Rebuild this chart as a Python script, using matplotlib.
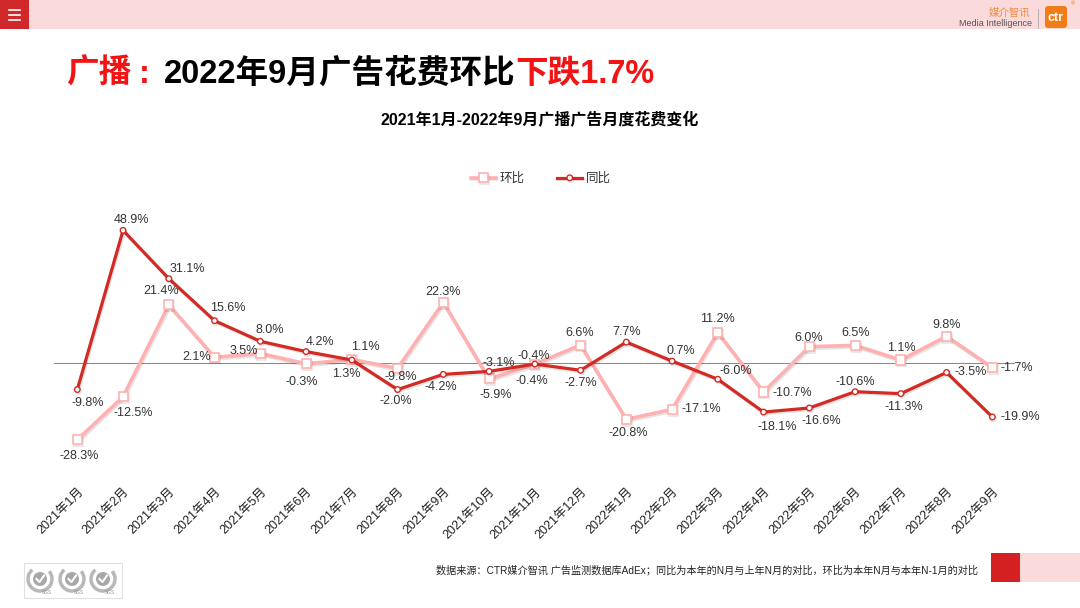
import matplotlib
matplotlib.use("Agg")
import matplotlib.pyplot as plt
import matplotlib.patheffects as pe
from matplotlib.patches import Rectangle, Circle, FancyBboxPatch, Arc

plt.rcParams['font.family'] = ['Liberation Sans', 'Noto Sans CJK SC', 'DejaVu Sans']

# data
months = ["2021年1月", "2021年2月", "2021年3月", "2021年4月", "2021年5月", "2021年6月",
          "2021年7月", "2021年8月", "2021年9月", "2021年10月", "2021年11月", "2021年12月",
          "2022年1月", "2022年2月", "2022年3月", "2022年4月", "2022年5月", "2022年6月",
          "2022年7月", "2022年8月", "2022年9月"]
mom = [-28.3, -12.5, 21.4, 2.1, 3.5, -0.3, 1.3, -2.0, 22.3, -5.9, -0.4, 6.6,
       -20.8, -17.1, 11.2, -10.7, 6.0, 6.5, 1.1, 9.8, -1.7]      # 环比
yoy = [-9.8, 48.9, 31.1, 15.6, 8.0, 4.2, 1.1, -9.8, -4.2, -3.1, -0.4, -2.7,
       7.7, 0.7, -6.0, -18.1, -16.6, -10.6, -11.3, -3.5, -19.9]   # 同比

# label offsets in pixels (dx, dy downwards), placed like the original
mom_off = [(2, 16), (10, 16), (-8, -14), (-18, 0), (-17, -2), (-4, 18), (-6, 15), (-2, 33),
           (0, -11), (7, 16), (-3, 17), (-1, -12), (2, 14), (29, 0), (0, -14), (29, 1),
           (-1, -9), (1, -12), (1, -12), (0, -11), (24, 0)]
yoy_off = [(10, 13), (8, -10), (19, -10), (13, -13), (9, -11), (14, -10), (14, -13), (3, -13),
           (-3, 13), (10, -8), (-1, -8), (0, 13), (0, -10), (9, -10), (18, -8), (14, 15),
           (12, 13), (0, -10), (3, 13), (24, 0), (28, 0)]

RED = '#D42A24'
PINK = '#FFB1B1'
TITLE_RED = '#F21414'

fig = plt.figure(figsize=(10.8, 6.08), dpi=100)

# decoration layer in pixel coordinates
deco = fig.add_axes([0, 0, 1, 1])
deco.set_xlim(0, 1080)
deco.set_ylim(608, 0)
deco.axis('off')

deco.add_patch(Rectangle((0, 0), 1080, 29, color='#FADADB', lw=0))
deco.add_patch(Rectangle((0, 0), 29, 29, color='#D0282A', lw=0))
for yy in (9.5, 14.5, 19.5):
    deco.plot([9, 20], [yy, yy], color='white', lw=1.2)

deco.text(1030, 13, "媒介智讯", color='#F08A3C', fontsize=7.5, ha='right', va='center')
deco.text(1032, 24, "Media Intelligence", color='#555555', fontsize=6.5, ha='right', va='center')
deco.plot([1038, 1038], [9, 28], color='#AAAAAA', lw=0.6)
deco.add_patch(FancyBboxPatch((1045, 6), 22, 22, boxstyle="round,pad=0,rounding_size=3",
                              color='#F07D16', lw=0))
deco.text(1056, 18, "ctr", color='white', fontsize=9, fontweight='bold', ha='center', va='center')
deco.text(1073, 4, "®", color='#F07D16', fontsize=4, ha='center', va='center')

# title in three colours
t1 = deco.text(66, 83, "广播", color=TITLE_RED, fontsize=23.5, fontweight='bold', va='baseline')
tc = deco.annotate(":", xy=(1, 0), xycoords=t1, xytext=(8, 0), textcoords='offset pixels',
                   color=TITLE_RED, fontsize=23.5, fontweight='bold', va='bottom')
t2 = deco.annotate("2022年9月广告花费环比", xy=(1, 0), xycoords=tc, xytext=(14, 0),
                   textcoords='offset pixels', color='black',
                   fontsize=23.5, fontweight='bold', va='bottom')
t3 = deco.annotate("下跌1.7%", xy=(1, 0), xycoords=t2, color=TITLE_RED,
                   fontsize=23.5, fontweight='bold', va='bottom')

deco.text(540, 120, "2021年1月-2022年9月广播广告月度花费变化", fontsize=11.5,
          fontweight='bold', ha='center', va='center')

deco.text(978, 570, "数据来源：CTR媒介智讯 广告监测数据库AdEx；同比为本年的N月与上年N月的对比，环比为本年N月与本年N-1月的对比",
          fontsize=7.3, ha='right', va='center', color='#222222')
deco.add_patch(Rectangle((991, 553), 29, 29, color='#D42020', lw=0))
deco.add_patch(Rectangle((1020, 553), 60, 29, color='#FADADB', lw=0))

# SGS marks
deco.add_patch(Rectangle((24, 563), 98, 35, fill=False, ec='#E0E0E0', lw=0.8))
for cx in (40, 72, 103):
    deco.add_patch(Arc((cx, 579), 24, 24, theta1=-40, theta2=230, color='#B8B8B8', lw=2.5))
    deco.add_patch(Circle((cx, 579), 7, color='#A8A8A8', lw=0))
    deco.plot([cx - 3.5, cx - 0.5, cx + 4], [579, 582, 575.5], color='white', lw=1.5)
    deco.text(cx + 7, 592, "SGS", fontsize=3.5, color='#999999', ha='center', va='center')

# main chart
ax = fig.add_axes([0.0504, 0.2469, 0.8896, 0.4237])
ax.patch.set_alpha(0)
x = list(range(len(months)))
ax.set_xlim(-0.5, len(months) - 0.5)
ax.set_ylim(-35, 60)
ax.axhline(0, color='#8C8C8C', lw=0.8, zorder=1)

shadow = [pe.SimpleLineShadow(offset=(0.8, -1.2), alpha=0.1, shadow_color='black'), pe.Normal()]
l1, = ax.plot(x, mom, color=PINK, lw=2.6, marker='s', ms=6.5, mfc='white', mec=PINK, mew=1.2,
              label='环比', zorder=3, path_effects=shadow)
l2, = ax.plot(x, yoy, color=RED, lw=2.3, marker='o', ms=4, mfc='white', mec=RED, mew=1.0,
              label='同比', zorder=4, path_effects=shadow)

for i, v in enumerate(mom):
    ax.annotate(f"{v:.1f}%", (i, v), xytext=(mom_off[i][0], -mom_off[i][1]),
                textcoords='offset pixels', ha='center', va='center', fontsize=9, color='#333333')
for i, v in enumerate(yoy):
    ax.annotate(f"{v:.1f}%", (i, v), xytext=(yoy_off[i][0], -yoy_off[i][1]),
                textcoords='offset pixels', ha='center', va='center', fontsize=9, color='#333333')

ax.set_yticks([])
ax.set_xticks(x)
ax.set_xticklabels(months, rotation=45, ha='right', rotation_mode='anchor', fontsize=9, color='#222222')
ax.tick_params(axis='x', length=0, pad=20)
for s in ax.spines.values():
    s.set_visible(False)

fig.legend(handles=[l1, l2], loc='center', bbox_to_anchor=(541 / 1080, 1 - 179 / 608), ncol=2,
           frameon=False, fontsize=9, handlelength=2.0, handletextpad=0.3, columnspacing=2.6,
           labelcolor='#333333')

fig.savefig("out.png", dpi=100)
